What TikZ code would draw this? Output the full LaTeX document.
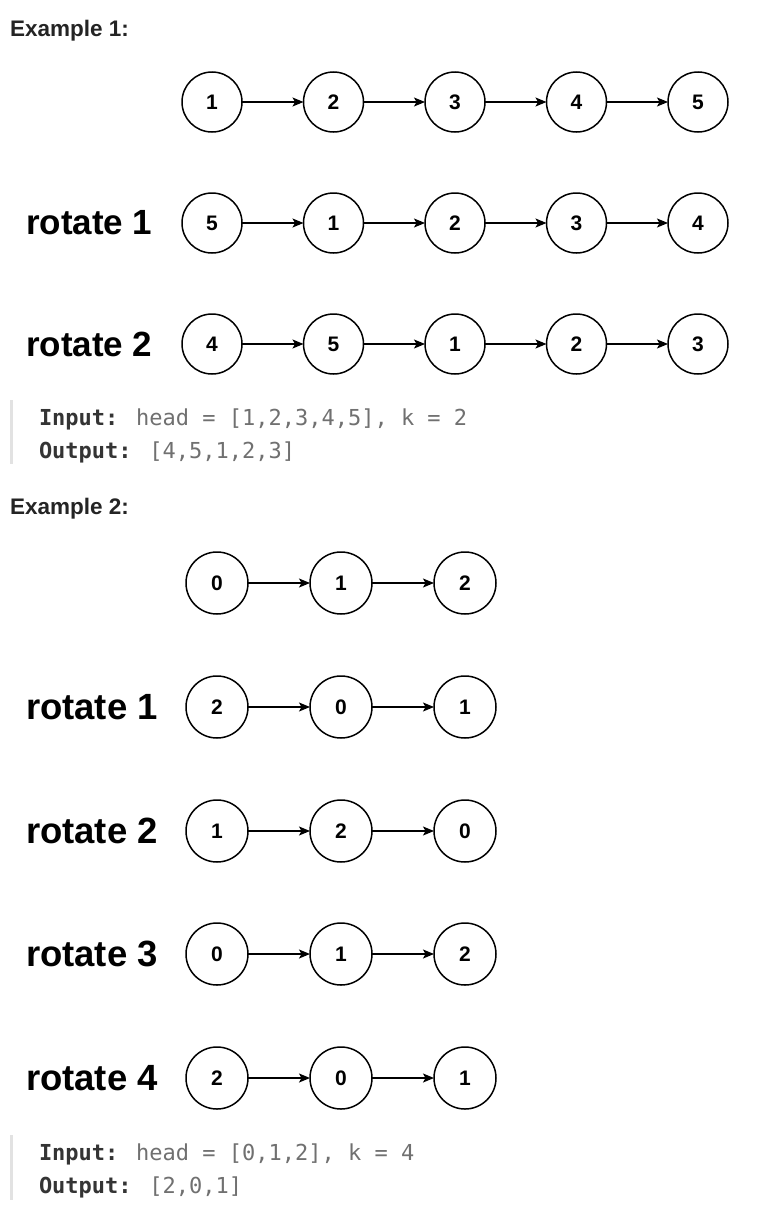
\documentclass[tikz,border=0pt]{standalone}
\usepackage{fontspec}
\setmainfont{Liberation Sans}
\newfontfamily\codefont{DejaVu Sans Mono}
\usepackage{tikz}
\usetikzlibrary{shapes,arrows,arrows.meta}
\definecolor{inkDark}{RGB}{36,36,36}
\definecolor{codeDark}{RGB}{52,52,52}
\definecolor{codeGrey}{RGB}{112,112,112}
\definecolor{barGrey}{RGB}{226,226,226}

\begin{document}
\begin{tikzpicture}[x=1pt, y=-1pt]%
  \tikzset{normal arrow/.style={draw,-{Stealth[length=11pt,width=9pt,inset=2.5pt]},line width=1.3pt,black}}
  \tikzstyle{every node}=[inner sep=0pt, outer sep=0pt, text=black]
  \tikzstyle{cell}=[draw, circle, line width=1.5pt, minimum size=60pt, font=\bfseries\fontsize{21}{21}\selectfont]
  \tikzstyle{bigcell}=[cell, minimum size=62pt]
  \tikzstyle{rotlabel}=[anchor=west, font=\bfseries\fontsize{35}{35}\selectfont]
  \tikzstyle{bigrotlabel}=[anchor=west, font=\bfseries\fontsize{36.5}{36.5}\selectfont]
  \tikzstyle{heading}=[anchor=base west, text=inkDark, font=\bfseries\fontsize{22.5}{22.5}\selectfont]
  \tikzstyle{code}=[anchor=base west, font=\codefont\fontsize{22}{22}\selectfont]

  \useasboundingbox[fill=white] (0,0) rectangle (784,1226);

  % Example 1
  \node[heading] at (10,36) (EX1) {Example 1:};

  \node[cell] at (212,102) (A1) {1};
  \node[cell] at (333.5,102) (A2) {2};
  \node[cell] at (455,102) (A3) {3};
  \node[cell] at (576.5,102) (A4) {4};
  \node[cell] at (698,102) (A5) {5};

  \node[rotlabel] at (26,223) (LB) {rotate 1};
  \node[cell] at (212,223) (B1) {5};
  \node[cell] at (333.5,223) (B2) {1};
  \node[cell] at (455,223) (B3) {2};
  \node[cell] at (576.5,223) (B4) {3};
  \node[cell] at (698,223) (B5) {4};

  \node[rotlabel] at (26,344) (LC) {rotate 2};
  \node[cell] at (212,344) (C1) {4};
  \node[cell] at (333.5,344) (C2) {5};
  \node[cell] at (455,344) (C3) {1};
  \node[cell] at (576.5,344) (C4) {2};
  \node[cell] at (698,344) (C5) {3};

  \path[normal arrow] (A1) edge (A2) (A2) edge (A3) (A3) edge (A4) (A4) edge (A5);
  \path[normal arrow] (B1) edge (B2) (B2) edge (B3) (B3) edge (B4) (B4) edge (B5);
  \path[normal arrow] (C1) edge (C2) (C2) edge (C3) (C3) edge (C4) (C4) edge (C5);

  \draw[barGrey, line width=3pt] (11.5,400) -- (11.5,464);
  \node[code] at (39,425) (IN1) {\textcolor{codeDark}{\bfseries Input:} \textcolor{codeGrey}{head = [1,2,3,4,5], k = 2}};
  \node[code] at (39,458) (OUT1) {\textcolor{codeDark}{\bfseries Output:} \textcolor{codeGrey}{[4,5,1,2,3]}};

  % Example 2
  \node[heading] at (10,514) (EX2) {Example 2:};

  \node[bigcell] at (217,583) (D1) {0};
  \node[bigcell] at (341,583) (D2) {1};
  \node[bigcell] at (465,583) (D3) {2};

  \node[bigrotlabel] at (26,707) (LE) {rotate 1};
  \node[bigcell] at (217,707) (E1) {2};
  \node[bigcell] at (341,707) (E2) {0};
  \node[bigcell] at (465,707) (E3) {1};

  \node[bigrotlabel] at (26,831) (LF) {rotate 2};
  \node[bigcell] at (217,831) (F1) {1};
  \node[bigcell] at (341,831) (F2) {2};
  \node[bigcell] at (465,831) (F3) {0};

  \node[bigrotlabel] at (26,954) (LG) {rotate 3};
  \node[bigcell] at (217,954) (G1) {0};
  \node[bigcell] at (341,954) (G2) {1};
  \node[bigcell] at (465,954) (G3) {2};

  \node[bigrotlabel] at (26,1078) (LH) {rotate 4};
  \node[bigcell] at (217,1078) (H1) {2};
  \node[bigcell] at (341,1078) (H2) {0};
  \node[bigcell] at (465,1078) (H3) {1};

  \path[normal arrow] (D1) edge (D2) (D2) edge (D3);
  \path[normal arrow] (E1) edge (E2) (E2) edge (E3);
  \path[normal arrow] (F1) edge (F2) (F2) edge (F3);
  \path[normal arrow] (G1) edge (G2) (G2) edge (G3);
  \path[normal arrow] (H1) edge (H2) (H2) edge (H3);

  \draw[barGrey, line width=3pt] (11.5,1135) -- (11.5,1200);
  \node[code] at (39,1160) (IN2) {\textcolor{codeDark}{\bfseries Input:} \textcolor{codeGrey}{head = [0,1,2], k = 4}};
  \node[code] at (39,1193) (OUT2) {\textcolor{codeDark}{\bfseries Output:} \textcolor{codeGrey}{[2,0,1]}};
\end{tikzpicture}
\end{document}
